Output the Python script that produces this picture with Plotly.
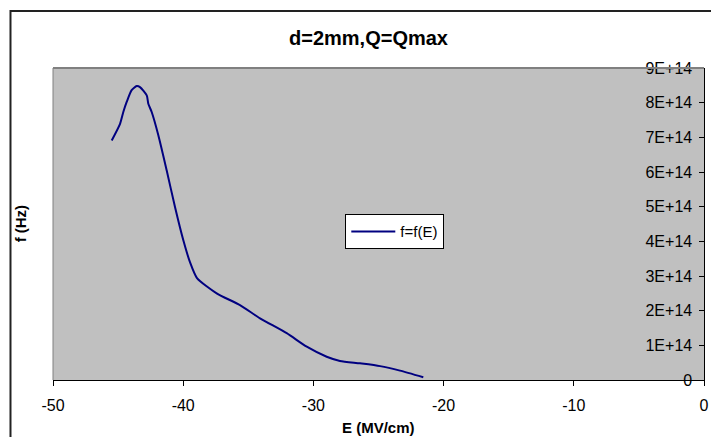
import plotly.graph_objects as go

# Data
E_vals = [-45.49, -44.85, -44.60, -44.34, -43.96, -43.57, -43.32, -42.80, -42.68,
          -42.42, -41.91, -41.27, -40.63, -39.99, -39.48, -38.94, -37.43, -35.64,
          -34.10, -32.05, -30.51, -28.98, -27.96, -26.42, -24.88, -23.35, -21.56]
f_vals = [6.91, 7.39, 7.73, 8.02, 8.36, 8.48, 8.45, 8.21, 7.97,
          7.73, 7.06, 6.05, 4.99, 4.03, 3.40, 2.94, 2.50, 2.16,
          1.78, 1.35, 0.96, 0.67, 0.55, 0.48, 0.40, 0.27, 0.08]
f_vals = [v * 1e14 for v in f_vals]

x_ticks = [-50, -40, -30, -20, -10, 0]
y_tick_vals = [i * 1e14 for i in range(10)]
y_tick_text = ["0", "1E+14", "2E+14", "3E+14", "4E+14", "5E+14",
               "6E+14", "7E+14", "8E+14", "9E+14"]

FONT = "Liberation Sans, Arial, sans-serif"

fig = go.Figure()
fig.add_trace(go.Scatter(x=E_vals, y=f_vals, mode="lines", name="f=f(E)",
                         line=dict(color="#000080", width=2, shape="spline", smoothing=0.6)))

fig.update_layout(
    width=711, height=429,
    margin=dict(l=45, r=15, t=60, b=57, autoexpand=False),
    paper_bgcolor="white",
    plot_bgcolor="#C0C0C0",
    font=dict(family=FONT, size=16, color="black"),
    showlegend=True,
    legend=dict(x=0.449, y=0.531, xanchor="left", yanchor="top",
                bgcolor="white", bordercolor="black", borderwidth=1,
                itemwidth=44, tracegroupgap=0,
                font=dict(family=FONT, size=15, color="black")),
    xaxis=dict(range=[-50, 0], tickvals=x_ticks, ticktext=[str(v) for v in x_ticks],
               automargin=False,
               showgrid=False, zeroline=False, showline=True, linecolor="black", linewidth=1,
               ticks="outside", ticklen=5, tickcolor="black", ticklabelstandoff=6,
               tickfont=dict(family=FONT, size=16, color="black")),
    yaxis=dict(range=[0, 9e14], tickvals=y_tick_vals, ticktext=y_tick_text,
               automargin=False,
               side="right", ticklabelposition="inside", ticklabeloverflow="allow",
               showgrid=False, zeroline=False, showline=True, linecolor="black", linewidth=1,
               ticks="inside", ticklen=5, tickcolor="black", ticklabelstandoff=7,
               tickfont=dict(family=FONT, size=16, color="black")),
    shapes=[
        dict(type="line", xref="paper", yref="paper", x0=0, x1=1, y0=1, y1=1,
             line=dict(color="#808080", width=2)),
        dict(type="line", xref="paper", yref="paper", x0=0, x1=0, y0=0, y1=1,
             line=dict(color="#808080", width=1)),
        dict(type="rect", xref="paper", yref="paper", x0=-0.0653, x1=1.2, y0=-0.3, y1=1.183,
             line=dict(color="#222222", width=2), fillcolor="rgba(0,0,0,0)"),
    ],
    annotations=[
        dict(text="<b>d=2mm,Q=Qmax</b>", xref="paper", yref="paper", x=0.484, y=1.0976,
             showarrow=False, font=dict(family=FONT, size=20, color="black"),
             xanchor="center", yanchor="middle"),
        dict(text="<b>E (MV/cm)</b>", xref="paper", yref="paper", x=0.5, y=-0.1536,
             showarrow=False, font=dict(family=FONT, size=15, color="black"),
             xanchor="center", yanchor="middle"),
        dict(text="<b>f (Hz)</b>", xref="paper", yref="paper", x=-0.0507, y=0.502,
             showarrow=False, textangle=-90, font=dict(family=FONT, size=15, color="black"),
             xanchor="center", yanchor="middle"),
    ],
)

fig.write_html("out.html")
